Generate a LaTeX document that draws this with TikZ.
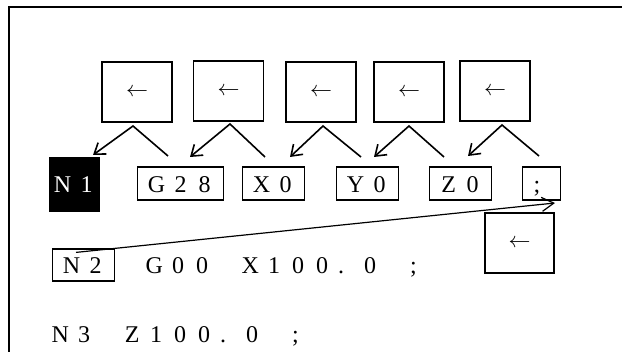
\documentclass[tikz,border=0pt]{standalone}
\usepackage{fontspec}
\setmainfont{Liberation Serif}
\usetikzlibrary{arrows.meta,calc}

% one cell per character, like a full-width font
\newlength{\cellw}\setlength{\cellw}{24pt}
\newcommand{\codefont}{\fontsize{24}{28}\selectfont}
\newcommand{\keyarrow}{\resizebox{22pt}{!}{$\leftarrow$}}
\makeatletter
\def\fwtext#1{\fw@loop#1\fw@end}
\def\fw@end{\fw@end}
\def\fw@loop#1{\ifx#1\fw@end\else\fw@char#1\expandafter\fw@loop\fi}
\def\fw@char#1{\ifx#1.\fw@left{#1}\else\ifx#1;\fw@left{#1}\else\makebox[\cellw][c]{#1}\fi\fi}
\def\fw@left#1{\makebox[\cellw][l]{\hspace{4pt}#1}}
\makeatother

\begin{document}
\begin{tikzpicture}[x=1pt,y=-1pt]

% =========================
% Styles
% =========================
\tikzset{
    arrowbox/.style={
        draw,
        line width=1.5pt,
        minimum width=70pt,
        minimum height=60pt,
        inner sep=0pt
    },
    codebox/.style={
        draw,
        line width=1.2pt,
        inner xsep=7pt,
        inner ysep=0pt,
        text height=26pt,
        text depth=7pt,
        anchor=base west,
        font=\codefont
    },
    codetext/.style={inner sep=0pt, anchor=base west, font=\codefont},
    chev/.style={line width=1.6pt, -{Straight Barb[length=10pt,width=14pt]}},
    jump/.style={line width=1.2pt, -{Straight Barb[length=12pt,width=14pt]}}
}

\useasboundingbox (0,0) rectangle (622,352);

% Frame
\draw[line width=1.5pt] (9,352) -- (9,7) -- (622,7);

% =========================
% First block
% =========================
\node[codebox, fill=black, text=white, inner xsep=1pt,
      text height=35pt, text depth=18pt] (n1) at (49,193) {\fwtext{N1}};
\node[codebox] (g28) at (137,193) {\fwtext{G28}};
\node[codebox] (x0) at (242,193) {\fwtext{X0}};
\node[codebox] (y0) at (336,193) {\fwtext{Y0}};
\node[codebox] (z0) at (429,193) {\fwtext{Z0}};
\node[codebox] (semi) at (522,193) {\fwtext{;}};

% Cursor keys
\node[arrowbox] (a1) at (137,92) {\keyarrow};
\node[arrowbox] (a2) at (228.5,91) {\keyarrow};
\node[arrowbox] (a3) at (321,92) {\keyarrow};
\node[arrowbox] (a4) at (409,92) {\keyarrow};
\node[arrowbox] (a5) at (495,91) {\keyarrow};

% Steps back word by word
\foreach \n/\r/\p/\t in {1/{168,156}/{133,126}/{93,155},
                         2/{265,157}/{230,124}/{190,157},
                         3/{361,157}/{323,126}/{290,157},
                         4/{444,157}/{409,126}/{374,157},
                         5/{539,156}/{502,125}/{468,156}}{
    \coordinate (r\n) at (\r);
    \coordinate (p\n) at (\p);
    \coordinate (t\n) at (\t);
    \draw[chev] (r\n) -- (p\n) -- (t\n);
}

% =========================
% Following blocks
% =========================
\node[codebox, text height=25pt] (n2) at (52,274) {\fwtext{N2}};
\node[codetext] (line2) at (142,274) {\fwtext{G00~X100.0~;}};
\node[codetext] (line3) at (48,343) {\fwtext{N3~Z100.0~;}};

\node[arrowbox, minimum width=69pt] (a6) at (519.5,243) {\keyarrow};

% Jump back to the end of the first block
\coordinate (from) at ($(n2.north west)+(24,4)$);
\coordinate (to) at (555,203);
\draw[jump] (from) -- (to);

\end{tikzpicture}
\end{document}
